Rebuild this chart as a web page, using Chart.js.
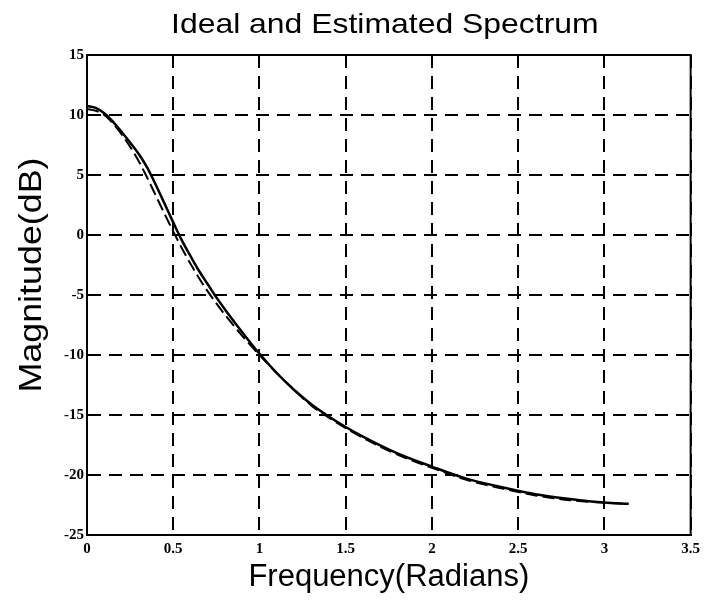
<!DOCTYPE html>
<html>
<head>
<meta charset="utf-8">
<script src="https://cdn.jsdelivr.net/npm/chart.js@4"></script>
<style>
  html, body { margin: 0; padding: 0; background: #fff; }
  #wrap { width: 705px; height: 606px; }
</style>
</head>
<body>
<div id="wrap"><canvas id="spectrum"></canvas></div>
<script>
// frequency samples (radians) and magnitudes in dB
const freq = [0, 0.05, 0.1, 0.15, 0.2, 0.25, 0.3, 0.35, 0.4, 0.45, 0.5, 0.55, 0.6, 0.65, 0.7, 0.75, 0.8, 0.9,
  1.0, 1.1, 1.2, 1.3, 1.4, 1.5, 1.6, 1.8, 2.0, 2.2, 2.4, 2.6, 2.8, 3.0, 3.14];
const ideal = [10.75, 10.6, 10.15, 9.45, 8.6, 7.7, 6.75, 5.6, 4.15, 2.6, 1.05, -0.45, -1.75, -3.0, -4.1, -5.2, -6.2, -8.1,
  -9.9, -11.5, -12.9, -14.1, -15.1, -16.0, -16.8, -18.2, -19.3, -20.3, -21.0, -21.6, -22.0, -22.3, -22.4];
const estimated = [10.5, 10.35, 10.0, 9.3, 8.4, 7.35, 6.15, 4.75, 3.25, 1.75, 0.3, -1.1, -2.4, -3.6, -4.7, -5.7, -6.65, -8.4,
  -10.0, -11.5, -12.9, -14.2, -15.2, -16.1, -16.9, -18.3, -19.4, -20.4, -21.1, -21.7, -22.1, -22.3, -22.4];

const xTicks = [0, 0.5, 1, 1.5, 2, 2.5, 3, 3.5];
const yTicks = [-25, -20, -15, -10, -5, 0, 5, 10, 15];
const titleText = "Ideal and Estimated Spectrum";
const yLabel = "Magnitude(dB)";

const toPoints = (xs, ys) => xs.map((x, i) => ({ x: x, y: ys[i] }));

// solid frame around the plotting area, the heading and the y label
const frame = {
  id: "frame",
  afterDraw(chart) {
    const a = chart.chartArea;
    const c = chart.ctx;
    c.save();
    c.strokeStyle = "#000";
    c.lineWidth = 2;
    c.setLineDash([]);
    c.strokeRect(a.left, a.top, a.right - a.left, a.bottom - a.top);
    c.fillStyle = "#000";
    c.textAlign = "center";

    // heading is set in a wide face, so stretch it sideways a little
    c.save();
    c.translate((a.left + a.right) / 2 - 4, 33);
    c.scale(1.14, 1);
    c.font = "28px 'Liberation Sans', Arial, sans-serif";
    c.textBaseline = "alphabetic";
    c.fillText(titleText, 0, 0);
    c.restore();

    // vertical axis label, sitting a bit above the middle of the axis
    c.save();
    c.translate(32, (a.top + a.bottom) / 2 - 20);
    c.rotate(-Math.PI / 2);
    c.scale(1.12, 1);
    c.font = "32px 'Liberation Sans', Arial, sans-serif";
    c.textBaseline = "middle";
    c.fillText(yLabel, 0, 0);
    c.restore();

    c.restore();
  }
};

const tickFont = { family: "'Liberation Serif', 'Times New Roman', serif", size: 15, weight: "bold" };

new Chart(document.getElementById("spectrum").getContext("2d"), {
  type: "line",
  data: {
    datasets: [
      {
        label: "Ideal",
        data: toPoints(freq, ideal),
        borderColor: "#000",
        borderWidth: 2.5,
        pointRadius: 0,
        cubicInterpolationMode: "monotone",
        fill: false
      },
      {
        label: "Estimated",
        data: toPoints(freq, estimated),
        borderColor: "#000",
        borderWidth: 2,
        borderDash: [12, 5],
        pointRadius: 0,
        cubicInterpolationMode: "monotone",
        fill: false
      }
    ]
  },
  options: {
    responsive: true,
    maintainAspectRatio: false,
    animation: false,
    layout: { padding: { top: 55, right: 13, left: 0, bottom: 0 } },
    plugins: {
      legend: { display: false },
      tooltip: { enabled: false },
      title: { display: false }
    },
    scales: {
      x: {
        type: "linear",
        min: 0,
        max: 3.5,
        afterBuildTicks: (s) => { s.ticks = xTicks.map(v => ({ value: v })); },
        afterFit: (s) => { s.height = 71; },
        ticks: { color: "#000", font: tickFont, padding: 5, callback: (v) => String(v) },
        grid: { color: "#000", lineWidth: 2, drawTicks: false },
        border: { color: "#000", width: 2, dash: [13, 8] },
        title: {
          display: true,
          text: "Frequency(Radians)",
          color: "#000",
          font: { family: "'Liberation Sans', Arial, sans-serif", size: 31 },
          padding: { top: 0, bottom: 10 }
        }
      },
      y: {
        type: "linear",
        min: -25,
        max: 15,
        afterBuildTicks: (s) => { s.ticks = yTicks.map(v => ({ value: v })); },
        afterFit: (s) => { s.width = 87; },
        ticks: { color: "#000", font: tickFont, padding: 3 },
        grid: { color: "#000", lineWidth: 2, drawTicks: false },
        border: { color: "#000", width: 2, dash: [13, 8] },
        title: { display: false }
      }
    }
  },
  plugins: [frame]
});
</script>
</body>
</html>
